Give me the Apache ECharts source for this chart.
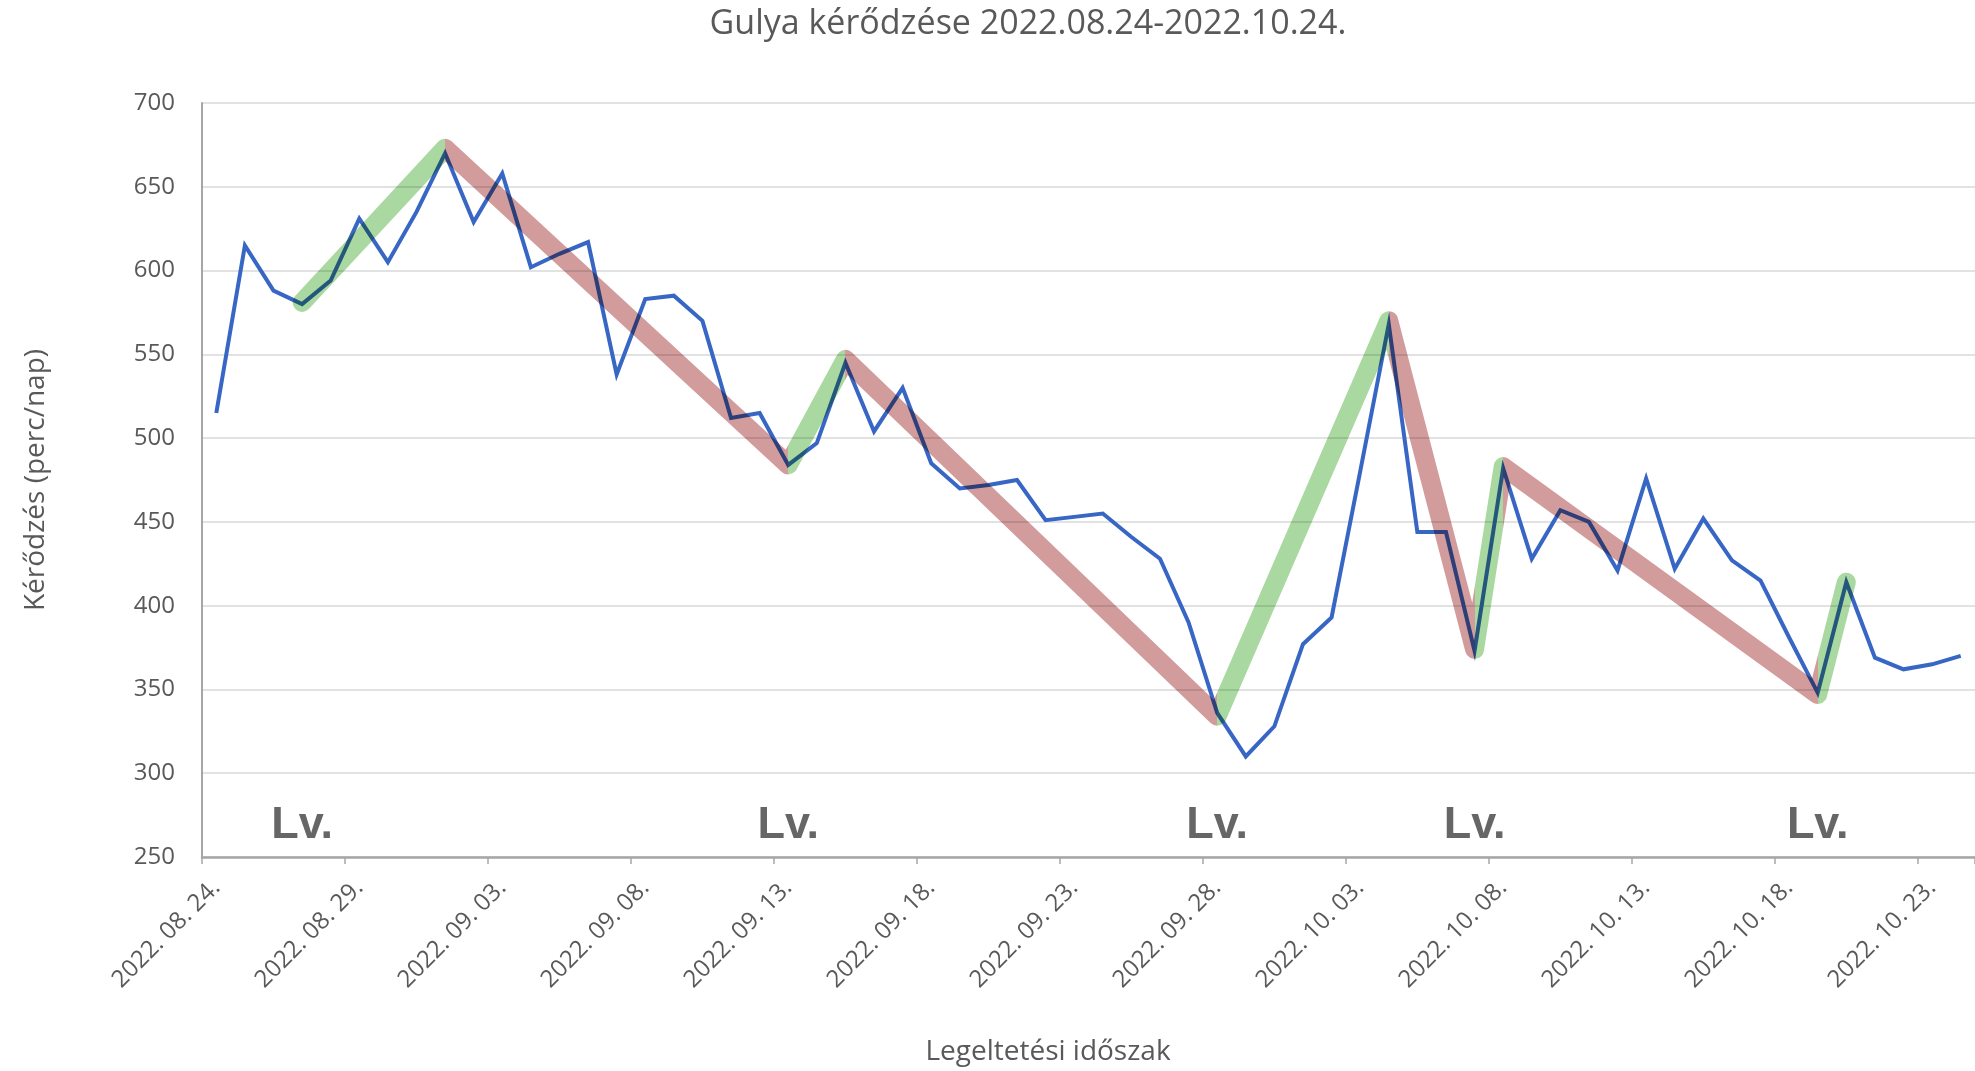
<!DOCTYPE html>
<html>
<head>
<meta charset="utf-8">
<script src="https://cdn.jsdelivr.net/npm/echarts@6/dist/echarts.min.js"></script>
<style>
  html, body { margin: 0; padding: 0; background: #ffffff; }
  #chart { width: 1975px; height: 1071px; }
</style>
</head>
<body>
<div id="chart"></div>
<script>
// ---- Data ----
const categories = [
  '2022. 08. 24.', '2022. 08. 25.', '2022. 08. 26.', '2022. 08. 27.', '2022. 08. 28.', '2022. 08. 29.', '2022. 08. 30.', '2022. 08. 31.',
  '2022. 09. 01.', '2022. 09. 02.', '2022. 09. 03.', '2022. 09. 04.', '2022. 09. 05.', '2022. 09. 06.', '2022. 09. 07.', '2022. 09. 08.',
  '2022. 09. 09.', '2022. 09. 10.', '2022. 09. 11.', '2022. 09. 12.', '2022. 09. 13.', '2022. 09. 14.', '2022. 09. 15.', '2022. 09. 16.',
  '2022. 09. 17.', '2022. 09. 18.', '2022. 09. 19.', '2022. 09. 20.', '2022. 09. 21.', '2022. 09. 22.', '2022. 09. 23.', '2022. 09. 24.',
  '2022. 09. 25.', '2022. 09. 26.', '2022. 09. 27.', '2022. 09. 28.', '2022. 09. 29.', '2022. 09. 30.', '2022. 10. 01.', '2022. 10. 02.',
  '2022. 10. 03.', '2022. 10. 04.', '2022. 10. 05.', '2022. 10. 06.', '2022. 10. 07.', '2022. 10. 08.', '2022. 10. 09.', '2022. 10. 10.',
  '2022. 10. 11.', '2022. 10. 12.', '2022. 10. 13.', '2022. 10. 14.', '2022. 10. 15.', '2022. 10. 16.', '2022. 10. 17.', '2022. 10. 18.',
  '2022. 10. 19.', '2022. 10. 20.', '2022. 10. 21.', '2022. 10. 22.', '2022. 10. 23.', '2022. 10. 24.'
];

const ruminationValues = [
  515, 615, 588, 580, 594, 631, 605, 635, 670, 629,
  658, 602, 610, 617, 538, 583, 585, 570, 512, 515,
  484, 497, 545, 504, 530, 485, 470, 472, 475, 451,
  453, 455, 441, 428, 390, 336, 310, 328, 377, 393,
  480, 568, 444, 444, 373, 482, 428, 457, 450, 421,
  476, 422, 452, 427, 415, 381, 348, 414, 369, 362,
  365, 370
];

// Hand-drawn trend path: [categoryIndex, value] turning points
const trendPath = [
  [3, 581], [8, 673], [20, 484], [22, 547], [35, 334],
  [41, 570], [44, 374], [45, 483], [56, 347], [57, 414]
];
// Rising stretches (green); the rest of the path is falling (red)
const risingRanges = [[3, 8], [20, 22], [35, 41], [44, 45], [56, 57]];

// "Lv." markers (pasture change)
const lvMarkers = [[3, 269], [20, 269], [35, 269], [44, 269], [56, 269]];

const yTicks = { min: 250, max: 700, interval: 50 };

// ---- Chart ----
const chart = echarts.init(document.getElementById('chart'));
const FONT = '"Open Sans", "Noto Sans", sans-serif';
const GREEN = '#a9d9a1';
const RED = '#d29c9c';

// colour pieces along x built from the rising ranges (outer caps stay green)
const pieces = [];
risingRanges.forEach(function (r, i) {
  const g = { color: GREEN };
  if (i > 0) g.gte = r[0];
  if (i < risingRanges.length - 1) g.lt = r[1];
  pieces.push(g);
  if (i < risingRanges.length - 1) {
    pieces.push({ gte: r[1], lt: risingRanges[i + 1][0], color: RED });
  }
});

const option = {
  backgroundColor: '#ffffff',
  animation: false,
  title: [
    {
      text: 'Gulya kérődzése 2022.08.24-2022.10.24.',
      left: 1028, top: 7, textAlign: 'center', padding: 0,
      textStyle: { fontFamily: FONT, fontSize: 34, fontWeight: 'normal', color: '#595959' }
    },
    {
      text: 'Legeltetési időszak',
      left: 1048, top: 1038, textAlign: 'center', padding: 0,
      textStyle: { fontFamily: FONT, fontSize: 28, fontWeight: 'normal', color: '#595959' }
    }
  ],
  visualMap: {
    type: 'piecewise', show: false, seriesIndex: 1, dimension: 0,
    pieces: pieces
  },
  grid: { left: 202, right: -4, top: 103, bottom: 214, containLabel: false },
  xAxis: {
    type: 'category',
    data: categories,
    boundaryGap: true,
    axisLine: { lineStyle: { color: '#a6a6a6', width: 2.5 } },
    axisTick: { show: true, interval: 4, length: 7, lineStyle: { color: '#a6a6a6', width: 1.5 } },
    axisLabel: {
      interval: 4, rotate: 45, margin: 27,
      fontFamily: FONT, fontSize: 24, color: '#595959'
    },
    splitLine: { show: false }
  },
  yAxis: {
    type: 'value',
    min: yTicks.min, max: yTicks.max, interval: yTicks.interval,
    name: 'Kérődzés (perc/nap)',
    nameLocation: 'middle', nameRotate: 90, nameGap: 152,
    nameTextStyle: { fontFamily: FONT, fontSize: 28, color: '#595959' },
    axisLine: { show: true, lineStyle: { color: '#a6a6a6', width: 2 } },
    axisTick: { show: false },
    axisLabel: { margin: 27, fontFamily: FONT, fontSize: 24, color: '#595959' },
    splitLine: { lineStyle: { color: '#d9d9d9', width: 1.5 } }
  },
  series: [
    {
      name: 'Kérődzés',
      type: 'line',
      data: ruminationValues,
      symbol: 'none',
      z: 3,
      lineStyle: { color: '#3766c4', width: 4, join: 'miter' }
    },
    {
      name: 'Trend',
      type: 'line',
      data: trendPath,
      symbol: 'none',
      silent: true,
      z: 5,
      blendMode: 'multiply',
      lineStyle: { width: 19, cap: 'round', join: 'round' }
    },
    {
      type: 'scatter',
      data: lvMarkers,
      symbolSize: 1,
      itemStyle: { color: 'rgba(0,0,0,0)' },
      silent: true,
      z: 6,
      label: {
        show: true, position: 'inside', formatter: 'Lv.',
        fontFamily: '"Liberation Sans", Arial, sans-serif',
        fontSize: 45, fontWeight: 'bold', color: '#404040'
      }
    }
  ]
};

chart.setOption(option);
</script>
</body>
</html>
